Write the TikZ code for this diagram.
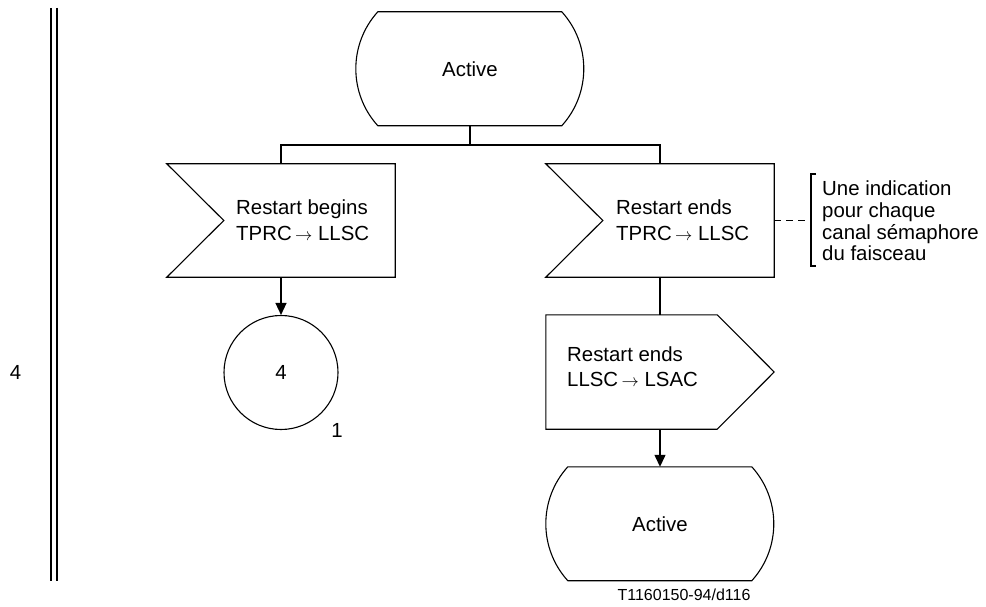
\documentclass[tikz,border=0pt]{standalone}
\usepackage{fontspec}
\setmainfont{Liberation Sans}
\usetikzlibrary{arrows.meta,calc}
\newcommand\mkstate[1]{\draw[outline] ($(#1.north west)+(22,0)$) -- ++(184,0) arc[start angle=42.2,end angle=-42.2,radius=84.8] -- ++(-184,0) arc[start angle=222.2,end angle=137.8,radius=84.8] -- cycle;}
\newcommand\mkinput[1]{\draw[outline] (#1.north west) -- (#1.north east) -- (#1.south east) -- (#1.south west) -- ($(#1.west)+(57,0)$) -- cycle;}
\newcommand\mkoutput[1]{\draw[outline] (#1.north west) -- ($(#1.north east)+(-57,0)$) -- (#1.east) -- ($(#1.south east)+(-57,0)$) -- (#1.south west) -- cycle;}
\newcommand\arw{{\fontsize{16}{16}\selectfont$\rightarrow$}}
\begin{document}
\begin{tikzpicture}[x=1pt,y=1pt,
  shapebox/.style={draw=none, inner sep=0pt, minimum width=228pt, minimum height=114pt},
  txt/.style={font=\fontsize{20.4}{26}\selectfont, inner sep=0pt, align=left, anchor=west},
  ctxt/.style={font=\fontsize{20.4}{26}\selectfont, inner sep=0pt},
  outline/.style={line width=1.1pt, line join=miter},
  conn/.style={line width=1.3pt},
  arr/.style={conn, -{Triangle[length=12pt,width=11pt]}},
  dashline/.style={conn, dash pattern=on 7pt off 5pt}]
\useasboundingbox (0,0) rectangle (986,-607);

% margin double line
\draw[line width=2.5pt] (51,-8) -- (51,-581);
\draw[line width=2.5pt] (57,-8) -- (57,-581);
\node[ctxt] (pg) at (15.5,-372.5) {4};

% states
\node[shapebox] (s1) at (470,-69) {};
\mkstate{s1}
\node[ctxt] (s1t) at (s1) {Active};

\node[shapebox] (s2) at (660,-524) {};
\mkstate{s2}
\node[ctxt] (s2t) at (s2) {Active};

% inputs
\node[shapebox, minimum height=113pt] (in1) at (281,-220.5) {};
\mkinput{in1}
\node[txt] (in1t) at (236,-220) {Restart begins\\TPRC\,\arw\ LLSC};

\node[shapebox, minimum height=113pt] (in2) at (660,-220.5) {};
\mkinput{in2}
\node[txt] (in2t) at (616,-220) {Restart ends\\TPRC\,\arw\ LLSC};

% output
\node[shapebox] (out) at (660,-372) {};
\mkoutput{out}
\node[txt, font=\fontsize{20.4}{25}\selectfont] (outt) at (567,-367) {Restart ends\\LLSC\,\arw\ LSAC};

% connector circle
\node[circle, draw, outline, minimum size=114pt, inner sep=0pt, font=\fontsize{20.4}{26}\selectfont] (c4) at (281,-372.5) {4};
\node[ctxt] (c4n) at (337,-430) {1};

% connections
\coordinate (bus) at (470,-145);
\draw[conn] (s1.south) -- (bus);
\draw[conn] (bus) -| (in1.north);
\draw[conn] (bus) -| (in2.north);
\draw[arr] (in1.south) -- (c4.north);
\draw[conn] (in2.south) -- (out.north);
\draw[arr] (out.south) -- (s2.north);

% comment
\coordinate (br) at (811,-220.5);
\draw[dashline] (in2.east) -- (br);
\draw[conn] ($(br)+(5,46.5)$) -- ($(br)+(0,46.5)$) -- ($(br)+(0,-45.5)$) -- ($(br)+(5,-45.5)$);
\node[font=\fontsize{20.4}{21.6}\selectfont, inner sep=0pt, align=left, anchor=west] (cm) at (822,-221) {Une indication\\pour chaque\\canal sémaphore\\du faisceau};

\node[font=\fontsize{16}{16}\selectfont, inner sep=0pt] (ref) at (684,-595) {T1160150-94/d116};
\end{tikzpicture}
\end{document}
